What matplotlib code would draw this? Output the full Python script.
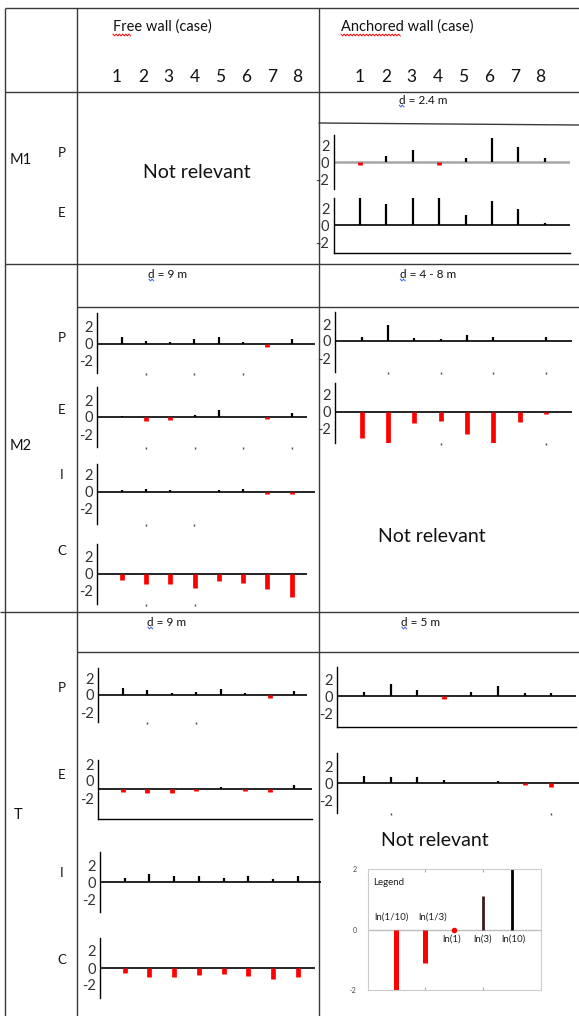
import numpy as np
import matplotlib
matplotlib.use("Agg")
import matplotlib.pyplot as plt
from matplotlib.transforms import ScaledTranslation

plt.rcParams['font.family'] = ['Lato', 'DejaVu Sans']

W, H = 579, 1016

cases = [1, 2, 3, 4, 5, 6, 7, 8]

# stem heights per case (ln of ratio)
m1_anch_P = [-0.3, 0.8, 1.4, -0.3, 0.55, 2.9, 1.8, 0.5]
m1_anch_E = [3.3, 2.5, 3.3, 3.3, 1.2, 2.9, 1.9, 0.25]
m2_free_P = [0.75, 0.3, 0.2, 0.6, 0.8, 0.25, -0.4, 0.5]
m2_free_E = [0.1, -0.5, -0.35, 0.25, 0.8, 0.0, -0.2, 0.5]
m2_free_I = [0.2, 0.35, 0.2, 0.0, 0.2, 0.35, -0.25, -0.25]
m2_free_C = [-0.7, -1.2, -1.2, -1.7, -0.85, -1.05, -1.85, -2.75]
m2_anch_P = [0.5, 1.85, 0.3, 0.2, 0.75, 0.5, 0.0, 0.5]
m2_anch_E = [-3.1, -3.8, -1.35, -1.05, -2.65, -3.8, -1.25, -0.3]
t_free_P = [0.85, 0.55, 0.2, 0.4, 0.7, 0.2, -0.4, 0.45]
t_free_E = [-0.4, -0.5, -0.45, -0.25, 0.25, -0.2, -0.35, 0.45]
t_free_I = [0.5, 1.0, 0.7, 0.7, 0.5, 0.8, 0.35, 0.8]
t_free_C = [-0.6, -1.0, -1.05, -0.8, -0.65, -0.9, -1.25, -1.05]
t_anch_P = [0.55, 1.5, 0.7, -0.35, 0.55, 1.2, 0.4, 0.4]
t_anch_E = [0.85, 0.7, 0.75, 0.4, 0.0, 0.25, -0.15, -0.4]

legend_names = ['ln(1/10)', 'ln(1/3)', 'ln(1)', 'ln(3)', 'ln(10)']
legend_values = [-2.3, -1.1, 0.0, 1.1, 2.3]

fig = plt.figure(figsize=(W / 100, H / 100), dpi=100)
bg = fig.add_axes([0, 0, 1, 1])
bg.set_xlim(0, W)
bg.set_ylim(H, 0)
bg.axis('off')

LC = '#3a3a3a'
TC = '#111111'


def hline(y, x0, x1, y1=None):
    bg.plot([x0, x1], [y, y if y1 is None else y1], color=LC, lw=1.0, solid_capstyle='butt')


def vline(x, y0, y1):
    bg.plot([x, x], [y0, y1], color=LC, lw=1.0, solid_capstyle='butt')


def squiggle(x0, x1, y, color):
    xs = np.arange(x0, x1 + 0.1, 1.6)
    ys = y + 0.9 * np.where(np.arange(len(xs)) % 2 == 0, -1, 1)
    bg.plot(xs, ys, color=color, lw=0.7)


# table grid
vline(5, 8, H)
vline(77, 8, H)
vline(318.5, 8, H)
hline(8, 5, W)
hline(92, 5, W)
hline(123, 318.5, W, 125)
hline(264, 5, W)
hline(307, 77, W)
hline(612, 0, W)
hline(652, 77, W)

# header
bg.text(113, 27, 'Free wall (case)', fontsize=10.5, va='center', ha='left', color=TC)
bg.text(341, 27, 'Anchored wall (case)', fontsize=10.5, va='center', ha='left', color=TC)
squiggle(113, 131, 35, 'red')
squiggle(341, 401, 35, 'red')
for i, c in enumerate(cases):
    bg.text(117 + i * 25.8, 77, str(c), fontsize=12.5, ha='center', va='center', color=TC)
    bg.text(360 + i * 25.8, 77, str(c), fontsize=12.5, ha='center', va='center', color=TC)

# row labels
row_labels = [('M1', 10, 160), ('M2', 10, 446), ('T', 14, 815)]
for txt, x, y in row_labels:
    bg.text(x, y, txt, fontsize=10.5, va='center', ha='left', color=TC)
sub_labels = [('P', 153), ('E', 213), ('P', 338), ('E', 410), ('I', 475), ('C', 551),
              ('P', 688), ('E', 775), ('I', 873), ('C', 960)]
for txt, y in sub_labels:
    bg.text(62, y, txt, fontsize=9.5, va='center', ha='center', color=TC)

# depth labels
for txt, x, y in [('d = 2.4 m', 423, 100), ('d = 9 m', 168, 274), ('d = 4 - 8 m', 428, 274),
                  ('d = 9 m', 167, 622), ('d = 5 m', 421, 622)]:
    t = bg.text(x, y, txt, fontsize=8.5, ha='center', va='center', color=TC)
    fig.canvas.draw()
    bb = t.get_window_extent()
    dx = bb.x0 + 3
    squiggle(dx - 2.5, dx + 2.5, y + 6, '#4060e0')

for x, y in [(197, 173), (432, 537), (435, 840)]:
    bg.text(x, y, 'Not relevant', fontsize=14, ha='center', va='center', color=TC)


def stem_panel(vals, x0, step, xend, ytop, ybot, yzero, zero_color='black', zero_lw=1.2,
               bottom=False, dots=(), label_shift=0):
    ppu = 8.5
    ax = fig.add_axes([x0 / W, 1 - ybot / H, (xend - x0) / W, (ybot - ytop) / H])
    ax.set_xlim(0, (xend - x0) / step)
    ax.set_ylim(-(ybot - yzero) / ppu, (yzero - ytop) / ppu)
    ax.patch.set_alpha(0)
    ax.spines['top'].set_visible(False)
    ax.spines['right'].set_visible(False)
    ax.spines['bottom'].set_visible(bottom)
    ax.spines['left'].set_linewidth(1.0)
    ax.spines['bottom'].set_linewidth(1.0)
    ax.axhline(0, color=zero_color, lw=zero_lw, zorder=1)
    v = np.array(vals)
    x = np.array(cases)
    neg = v < 0
    ax.vlines(x[~neg], 0, v[~neg], color='black', lw=1.6, zorder=2)
    ax.vlines(x[neg], 0, v[neg], color='#ff0000', lw=3.4, zorder=2)
    ax.set_yticks([2, 0, -2])
    ax.set_yticklabels(['2', '0', '-2'])
    ax.tick_params(axis='y', length=0, pad=3, labelsize=10.5, labelcolor='#333333')
    ax.set_xticks(list(dots))
    ax.tick_params(axis='x', length=1.5, width=1, color='#444444', labelbottom=False)
    if label_shift:
        for lbl in ax.get_yticklabels():
            lbl.set_transform(lbl.get_transform() + ScaledTranslation(0, label_shift / 100, fig.dpi_scale_trans))
    return ax


stem_panel(m1_anch_P, 333.6, 26.4, 570, 135, 189, 162.3, zero_color='#a6a6a6', zero_lw=1.8)
stem_panel(m1_anch_E, 333.6, 26.4, 570, 198, 253, 225.3, bottom=True)
stem_panel(m2_free_P, 97.3, 24.3, 315, 313, 373, 343.7, dots=[2, 4, 6])
stem_panel(m2_free_E, 97.3, 24.3, 307, 387, 447, 417, dots=[2, 4, 6, 8])
stem_panel(m2_free_I, 97.3, 24.3, 315, 464, 524, 491.7, dots=[2, 4])
stem_panel(m2_free_C, 97.3, 24.3, 307, 544, 604, 573.7, dots=[2, 4])
stem_panel(m2_anch_P, 335.4, 26.3, 572, 312, 372, 341, dots=[2, 4, 6, 8])
stem_panel(m2_anch_E, 335.4, 26.3, 572, 383, 443, 411.7, dots=[4, 8])
stem_panel(t_free_P, 98.3, 24.5, 307, 668, 722, 695, dots=[2, 4])
stem_panel(t_free_E, 98.3, 24.5, 312, 760, 819, 789, bottom=True, label_shift=8)
stem_panel(t_free_I, 100, 24.7, 321, 852, 912, 882.3)
stem_panel(t_free_C, 100, 24.7, 315, 938, 998, 968)
stem_panel(t_anch_P, 336.9, 26.8, 576, 667, 727, 696.3, bottom=True)
stem_panel(t_anch_E, 336.9, 26.8, 579, 753, 813, 783.3, dots=[2, 8])

# legend chart
lax = fig.add_axes([367.5 / W, 1 - 990 / H, (540.7 - 367.5) / W, (990 - 869.3) / H])
lax.set_xlim(0, 6)
lax.set_ylim(-2, 2)
for s in lax.spines.values():
    s.set_color('#cccccc')
    s.set_linewidth(0.8)
lax.axhline(0, color='#bdbdbd', lw=1.0, zorder=1)
pos = np.arange(1, len(legend_values) + 1)
lv = np.array(legend_values)
lcolors = ['#ff0000' if v <= 0 else ('#3b1c1c' if v < 2 else '#000000') for v in lv]
lwidths = [3.6 if v <= 0 else 2.0 for v in lv]
lax.vlines(pos, 0, lv, colors=lcolors, linewidths=lwidths, zorder=2)
lax.plot(pos[lv == 0], lv[lv == 0], 'o', color='#ff0000', ms=3, zorder=3)
lax.set_yticks([-2, 0, 2])
lax.set_yticklabels(['-2', '0', '2'])
lax.tick_params(axis='y', length=0, pad=8, labelsize=5, labelcolor='#444444')
lax.set_xticks([2, 4])
lax.tick_params(axis='x', top=True, direction='in', length=2, color='#aaaaaa', labelbottom=False)
label_dx = [-0.18, 0.26, -0.07, -0.01, 0.05]
for p, name, v, dx in zip(pos, legend_names, lv, label_dx):
    ly = 0.43 if v < 0 else -0.3
    lax.text(p + dx, ly, name, fontsize=7, ha='center', va='center', color='#222222')
lax.text(0.19, 1.57, 'Legend', fontsize=7, ha='left', va='center', color='#222222')
squiggle(373, 404, 888, 'red')

fig.savefig('out.png', dpi=100)
